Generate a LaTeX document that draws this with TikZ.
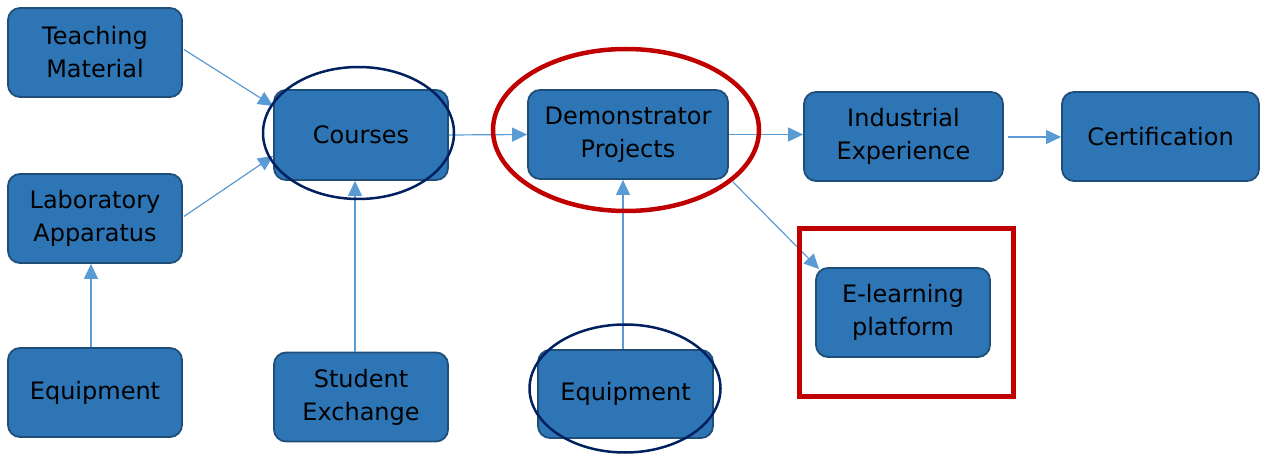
\documentclass[tikz,border=0pt]{standalone}
\usepackage{fontspec}
\setmainfont{DejaVu Sans}
\usetikzlibrary{arrows.meta,calc}
\definecolor{boxfill}{HTML}{2E75B6}
\definecolor{boxline}{HTML}{1F4E79}
\definecolor{arrowcol}{HTML}{5B9BD5}
\definecolor{navyring}{HTML}{002060}
\definecolor{redmark}{HTML}{C00000}
\tikzset{
  blockbox/.style={rectangle, rounded corners=12pt, fill=boxfill, draw=boxline, line width=1.8pt,
    align=center, text=black, font=\fontsize{24}{33}\selectfont, inner sep=0pt},
  flowarrow/.style={draw=arrowcol, line width=1.2pt, -{Triangle[length=15pt,width=14pt]}},
  navyloop/.style={draw=navyring, line width=2.5pt},
  redloop/.style={draw=redmark, line width=4.5pt},
}
\begin{document}
\begin{tikzpicture}[x=1pt,y=-1pt]
\useasboundingbox (0,0) rectangle (1261,454);
% boxes
\node[blockbox, minimum width=174pt, minimum height=89pt] (teach) at (95,52.5) {Teaching\\Material};
\node[blockbox, minimum width=174pt, minimum height=89pt] (lab) at (95,218.5) {Laboratory\\Apparatus};
\node[blockbox, minimum width=174pt, minimum height=89pt] (equipa) at (95,392.5) {Equipment};
\node[blockbox, minimum width=174pt, minimum height=89pt] (student) at (361,397) {Student\\Exchange};
\node[blockbox, minimum width=174pt, minimum height=90pt] (courses) at (361,135) {Courses};
\node[blockbox, minimum width=200pt, minimum height=89pt] (demo) at (628,134.5) {Demonstrator\\Projects};
\node[blockbox, minimum width=199pt, minimum height=89pt] (indus) at (903.5,136.5) {Industrial\\Experience};
\node[blockbox, minimum width=197pt, minimum height=89pt] (cert) at (1160.5,136.5) {Certification};
\node[blockbox, minimum width=174pt, minimum height=89pt] (elearn) at (903,312.5) {E-learning\\platform};
\node[blockbox, minimum width=175pt, minimum height=88pt] (equipb) at (625.5,394) {Equipment};
% connectors
\draw[flowarrow] ($(teach.east)+(1,-3)$) -- ($(courses.west)+(0,-29)$);
\draw[flowarrow] ($(lab.east)+(1,-2)$) -- ($(courses.west)+(0,21)$);
\draw[flowarrow] (courses.east) -- (demo.west);
\draw[flowarrow] (demo.east) -- (demo.east -| indus.west);
\draw[flowarrow] ($(indus.east)+(4,0.5)$) -- ($(cert.west)+(0,0.5)$);
\draw[flowarrow] ($(demo.south east)+(4,2)$) -- ($(elearn.north west)+(4,2)$);
\draw[flowarrow] ($(equipa.north)+(-4,0)$) -- ($(lab.south)+(-4,0)$);
\draw[flowarrow] ($(student.north)+(-6,0)$) -- ($(courses.south)+(-6,0)$);
\draw[flowarrow] ($(equipb.north)+(-2.5,0)$) -- ($(demo.south)+(-5,0)$);
% highlight marks
\draw[navyloop] ($(courses.center)+(-2.5,-2)$) ellipse [x radius=95.5, y radius=66];
\draw[navyloop] ($(equipb.center)+(-0.5,-5.5)$) ellipse [x radius=95.5, y radius=64];
\draw[redloop] ($(demo.center)+(-2,-4.5)$) ellipse [x radius=133, y radius=81];
\draw[draw=redmark, line width=5pt] (799.5,228.5) rectangle (1013.5,396.5);
\end{tikzpicture}
\end{document}
